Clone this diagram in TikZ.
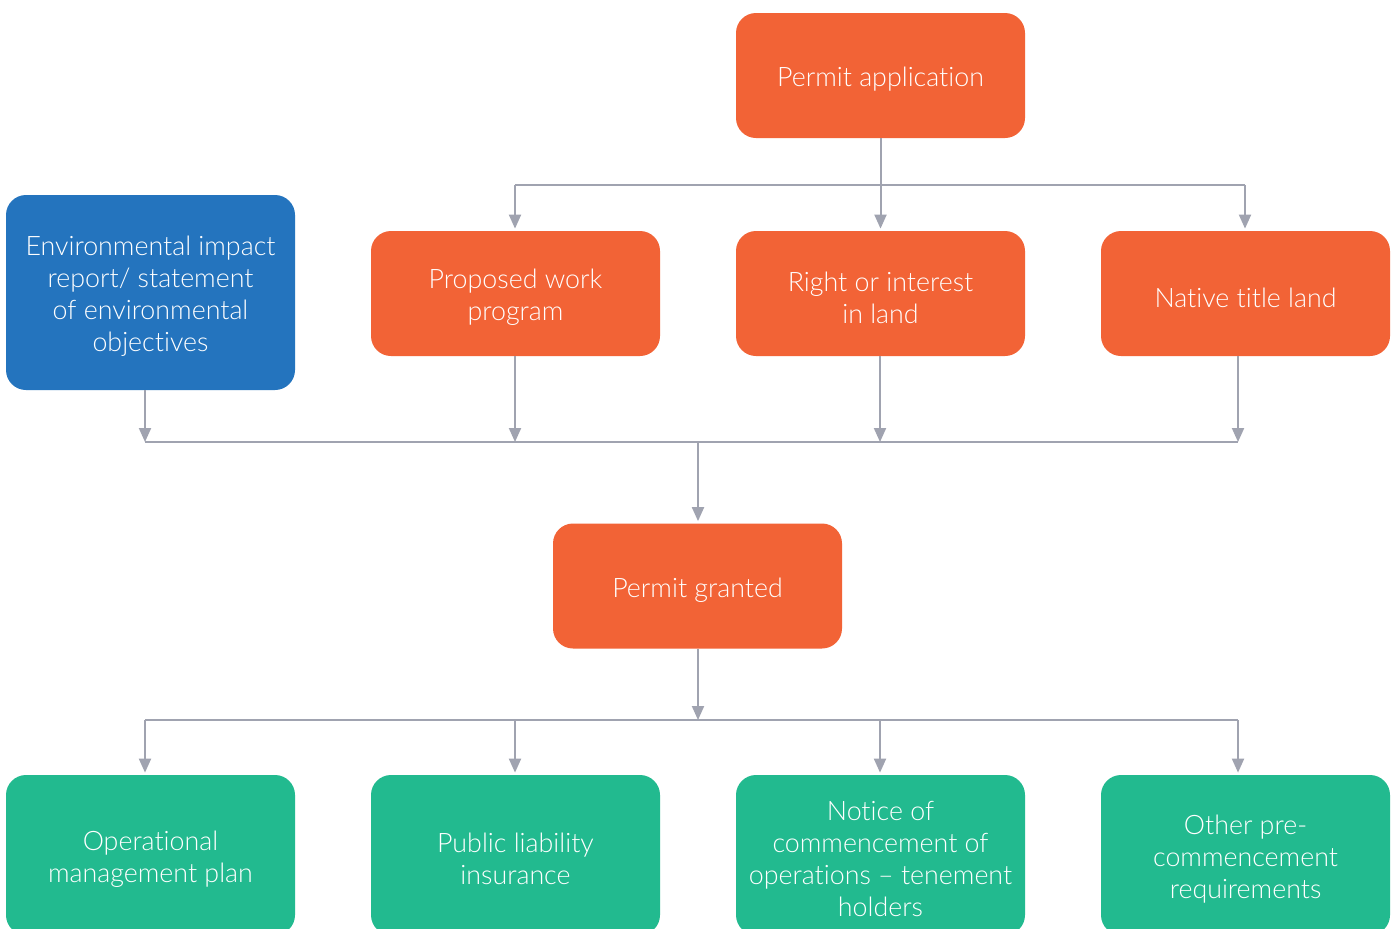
\documentclass[tikz,border=0pt]{standalone}
\usepackage{fontspec}
\setmainfont[Ligatures={NoCommon,NoRare,NoContextual}]{Lato Light}
\usetikzlibrary{arrows.meta}
\definecolor{orangebox}{HTML}{F26336}
\definecolor{bluebox}{HTML}{2474BE}
\definecolor{greenbox}{HTML}{22BA8F}
\definecolor{linegray}{HTML}{A0A3B0}
\begin{document}
\begin{tikzpicture}[x=0.5pt,y=-0.5pt,
  txt/.style={text=white, align=center, font=\fontsize{13.4}{16}\selectfont, inner sep=0pt, yshift=-2pt},
  box/.style={rounded corners=10pt, minimum width=144.5pt, minimum height=62.5pt, inner sep=0pt,
    label={[txt]center:{#1}}},
  obox/.style={box={#1}, fill=orangebox},
  bbox/.style={box={#1}, fill=bluebox, minimum height=97.5pt},
  gbox/.style={box={#1}, fill=greenbox, minimum height=80pt},
  conn/.style={draw=linegray, line width=1pt},
  arr/.style={conn, -{Triangle[length=7pt,width=6pt]}, shorten >=1pt}]
\useasboundingbox (0,0) rectangle (1395,928);
\clip (0,0) rectangle (1395,928);
\fill[white] (0,0) rectangle (1395,928);

\node[obox={Permit application}] (pa) at (880.5,75.5) {};
\node[bbox={Environmental impact\\report/ statement\\of environmental\\objectives}] (env) at (150.5,292.5) {};
\node[obox={Proposed work\\program}] (pw) at (515.5,293.5) {};
\node[obox={Right or interest\\in land}] (ri) at (880.5,293.5) {};
\node[obox={Native title land}] (nt) at (1245.5,293.5) {};
\node[obox={Permit granted}] (pg) at (697.5,586) {};
\node[gbox={Operational\\management plan}] (op) at (150.5,855) {};
\node[gbox={Public liability\\insurance}] (pl) at (515.5,855) {};
\node[gbox={Notice of\\commencement of\\operations -- tenement\\holders}] (nc) at (880.5,855) {};
\node[gbox={Other pre-\\commencement\\requirements}] (ot) at (1245.5,855) {};

% top split
\coordinate (s1l) at (515,185);
\coordinate (s1r) at (1245,185);
\draw[arr] (pa.south) -- (ri.north);
\draw[conn] (s1l) -- (s1r);
\draw[arr] (s1l) -- (s1l |- pw.north);
\draw[arr] (s1r) -- (s1r |- nt.north);

% merge
\coordinate (m1) at (145,442);
\coordinate (m2) at (515,442);
\coordinate (m3) at (880,442);
\coordinate (m4) at (1238,442);
\coordinate (mc) at (698,442);
\draw[arr, shorten >=0pt] (m1 |- env.south) -- (m1);
\draw[arr, shorten >=0pt] (m2 |- pw.south) -- (m2);
\draw[arr, shorten >=0pt] (m3 |- ri.south) -- (m3);
\draw[arr, shorten >=0pt] (m4 |- nt.south) -- (m4);
\draw[conn] (m1) -- (m4);
\draw[arr] (mc) -- (mc |- pg.north);

% bottom split
\coordinate (b1) at (145,720);
\coordinate (b2) at (515,720);
\coordinate (b3) at (880,720);
\coordinate (b4) at (1238,720);
\coordinate (bc) at (698,720);
\draw[arr, shorten >=0pt] (bc |- pg.south) -- (bc);
\draw[conn] (b1) -- (b4);
\draw[arr] (b1) -- (b1 |- op.north);
\draw[arr] (b2) -- (b2 |- pl.north);
\draw[arr] (b3) -- (b3 |- nc.north);
\draw[arr] (b4) -- (b4 |- ot.north);
\end{tikzpicture}
\end{document}
